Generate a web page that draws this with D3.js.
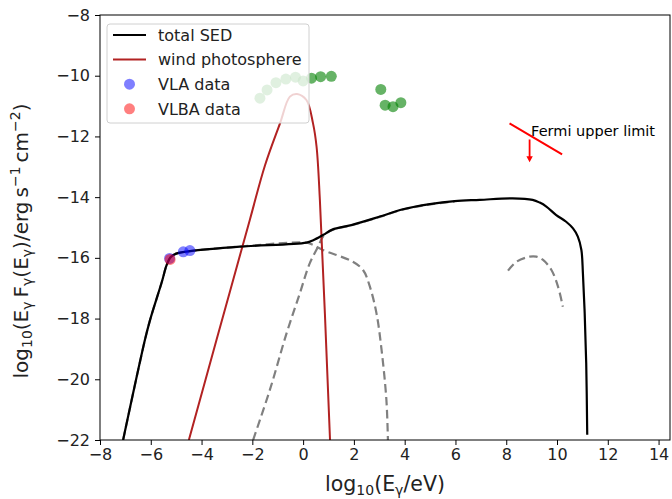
<!DOCTYPE html>
<html>
<head>
<meta charset="utf-8">
<script src="https://cdn.jsdelivr.net/npm/d3@7/dist/d3.min.js"></script>
<style>
  html, body { margin: 0; padding: 0; background: #fff; }
  svg { display: block; font-family: "DejaVu Sans", sans-serif; }
</style>
</head>
<body>
<svg id="chart" width="672" height="499"></svg>
<script>
// ---- data (log10 E / eV, log10 E F(E) / erg s^-1 cm^-2) ----
const totalX = [-7.09, -6.23, -6.03, -5.56, -5.38, -5.22, -5.00, -4.46, -2.49, 0.13, 0.40, 0.80, 1.15, 1.90, 3.02, 3.93, 4.99, 5.97, 6.96, 8.25, 9.04, 9.32, 9.58, 9.97, 10.36, 10.63, 10.82, 10.96, 11.02, 11.09, 11.15, 11.19];
const totalY = [-22, -18.70, -18.05, -16.78, -16.25, -15.98, -15.86, -15.78, -15.63, -15.50, -15.42, -15.24, -15.07, -14.92, -14.64, -14.40, -14.23, -14.13, -14.09, -14.04, -14.09, -14.18, -14.31, -14.59, -14.81, -15.03, -15.30, -15.74, -16.51, -17.83, -19.47, -21.83];

const windX = [-4.50, -3.41, -2.10, -1.50, -0.91, -0.52, -0.24, 0.13, 0.39, 0.53, 0.66, 1.06];
const windY = [-22, -18.70, -14.75, -12.95, -11.57, -10.69, -10.60, -10.80, -11.57, -12.34, -14.09, -22];

// low-energy component
const comp1X = [-7.09, -6.23, -6.03, -5.56, -5.38, -5.22, -5.00, -4.46, -2.49, 0.13, 0.40, 0.78, 1.96, 2.36, 2.63, 2.89, 3.09, 3.28, 3.34];
const comp1Y = [-22, -18.70, -18.05, -16.78, -16.25, -15.98, -15.86, -15.78, -15.63, -15.50, -15.58, -15.74, -16.13, -16.40, -16.95, -17.83, -19.03, -20.68, -22];

// rising component
const comp2X = [-1.97, -1.31, -0.65, -0.13, 0.26, 0.59, 0.80, 1.15, 1.90, 3.02, 3.93, 4.99, 5.97];
const comp2Y = [-22, -20.35, -18.48, -17.17, -16.18, -15.63, -15.28, -15.08, -14.93, -14.65, -14.41, -14.24, -14.14];

// high-energy component
const comp3X = [8.07, 8.40, 8.92, 9.19, 9.45, 9.78, 10.04, 10.23];
const comp3Y = [-16.42, -16.13, -15.96, -15.96, -16.07, -16.40, -16.95, -17.61];

const greenX = [-1.70, -1.42, -1.07, -0.68, -0.30, 0.00, 0.33, 0.69, 1.11, 3.06, 3.23, 3.54, 3.85];
const greenY = [-10.74, -10.47, -10.23, -10.11, -10.05, -10.17, -10.08, -10.03, -10.02, -10.45, -10.97, -11.02, -10.89];

const vlaX = [-5.26, -4.72, -4.46];
const vlaY = [-16.02, -15.80, -15.76];
const vlbaX = [-5.24];
const vlbaY = [-16.05];

// Fermi upper limit: segment ends and arrow
const fermiX = [8.13, 10.20];
const fermiY = [-11.57, -12.59];
const fermiArrowX = 8.92;
const fermiArrowY = [-12.10, -12.85];

const xTickValues = [-8, -6, -4, -2, 0, 2, 4, 6, 8, 10, 12, 14];
const yTickValues = [-22, -20, -18, -16, -14, -12, -10, -8];

// ---- layout ----
const svg = d3.select("#chart");
const m = { left: 100, top: 15, right: 670, bottom: 440 };
const x = d3.scaleLinear().domain([-8, 14.45]).range([m.left, m.right]);
const y = d3.scaleLinear().domain([-22, -8]).range([m.bottom, m.top]);

const zip = (a, b) => a.map((v, i) => [v, b[i]]);
const line = d3.line().x(d => x(d[0])).y(d => y(d[1])).curve(d3.curveCatmullRom.alpha(0.5));

svg.append("defs").append("clipPath").attr("id", "plotclip")
  .append("rect").attr("x", m.left).attr("y", m.top)
  .attr("width", m.right - m.left).attr("height", m.bottom - m.top);

const plot = svg.append("g").attr("clip-path", "url(#plotclip)");

// dashed model components
[[comp1X, comp1Y], [comp2X, comp2Y], [comp3X, comp3Y]].forEach(([cx, cy]) => {
  plot.append("path").datum(zip(cx, cy)).attr("d", line)
    .attr("fill", "none").attr("stroke", "#808080").attr("stroke-width", 2.2)
    .attr("stroke-dasharray", "8.5,4.5");
});

// wind photosphere
plot.append("path").datum(zip(windX, windY)).attr("d", line)
  .attr("fill", "none").attr("stroke", "#b22222").attr("stroke-width", 2);

// total SED
plot.append("path").datum(zip(totalX, totalY)).attr("d", line)
  .attr("fill", "none").attr("stroke", "#000").attr("stroke-width", 2.2);

// green data
plot.selectAll("circle.green").data(zip(greenX, greenY)).enter().append("circle")
  .attr("cx", d => x(d[0])).attr("cy", d => y(d[1])).attr("r", 5.5)
  .attr("fill", "#008000").attr("fill-opacity", 0.6);

// VLA and VLBA
plot.selectAll("circle.vla").data(zip(vlaX, vlaY)).enter().append("circle")
  .attr("cx", d => x(d[0])).attr("cy", d => y(d[1])).attr("r", 5.5)
  .attr("fill", "#0000ff").attr("fill-opacity", 0.5);
plot.selectAll("circle.vlba").data(zip(vlbaX, vlbaY)).enter().append("circle")
  .attr("cx", d => x(d[0])).attr("cy", d => y(d[1])).attr("r", 5.5)
  .attr("fill", "#ff0000").attr("fill-opacity", 0.5);

// Fermi upper limit
plot.append("line")
  .attr("x1", x(fermiX[0])).attr("y1", y(fermiY[0]))
  .attr("x2", x(fermiX[1])).attr("y2", y(fermiY[1]))
  .attr("stroke", "#ff0000").attr("stroke-width", 2);
const ax = x(fermiArrowX), ay0 = y(fermiArrowY[0]), ay1 = y(fermiArrowY[1]);
plot.append("line").attr("x1", ax).attr("y1", ay0).attr("x2", ax).attr("y2", ay1 - 5)
  .attr("stroke", "#ff0000").attr("stroke-width", 1.8);
plot.append("path")
  .attr("d", `M${ax - 3.2},${ay1 - 6} L${ax + 3.2},${ay1 - 6} L${ax},${ay1} Z`)
  .attr("fill", "#ff0000");
svg.append("text").attr("x", x(8.98)).attr("y", y(-11.98))
  .attr("font-size", 14.5).attr("fill", "#000").text("Fermi upper limit");

// ---- axes ----
const xAxis = d3.axisBottom(x).tickValues(xTickValues).tickSize(5).tickPadding(4)
  .tickFormat(d => (d < 0 ? "\u2212" + Math.abs(d) : String(d)));
const yAxis = d3.axisLeft(y).tickValues(yTickValues).tickSize(5).tickPadding(5)
  .tickFormat(d => (d < 0 ? "\u2212" + Math.abs(d) : String(d)));

const gx = svg.append("g").attr("transform", `translate(0,${m.bottom})`).call(xAxis);
const gy = svg.append("g").attr("transform", `translate(${m.left},0)`).call(yAxis);
[gx, gy].forEach(g => {
  g.select(".domain").remove();
  g.selectAll(".tick line").attr("stroke", "#000").attr("stroke-width", 1);
  g.selectAll(".tick text").attr("font-size", 16).attr("fill", "#222")
    .attr("font-family", "DejaVu Sans, sans-serif");
});

// frame
svg.append("rect").attr("x", m.left).attr("y", m.top)
  .attr("width", m.right - m.left).attr("height", m.bottom - m.top)
  .attr("fill", "none").attr("stroke", "#000").attr("stroke-width", 1);

// axis labels
const xl = svg.append("text").attr("x", (m.left + m.right) / 2).attr("y", 491)
  .attr("text-anchor", "middle").attr("font-size", 20.5).attr("fill", "#222");
xl.append("tspan").text("log");
xl.append("tspan").attr("font-size", 14).attr("dy", 3.5).text("10");
xl.append("tspan").attr("dy", -3.5).text("(E");
xl.append("tspan").attr("font-size", 14).attr("dy", 3.5).text("γ");
xl.append("tspan").attr("dy", -3.5).text("/eV)");

const yl = svg.append("text").attr("transform", "translate(28,241) rotate(-90)")
  .attr("text-anchor", "middle").attr("font-size", 20).attr("fill", "#222");
const ySeg = [
  ["log", 0], ["10", 1], ["(E", 0], ["γ", 1], ["\u2009F", 0], ["γ", 1], ["(E", 0], ["γ", 1],
  [")/erg\u2009s", 0], ["\u22121", 2], ["\u2009cm", 0], ["\u22122", 2], [")", 0]
];
let prev = 0;
ySeg.forEach(([t, k]) => {
  const off = k === 1 ? 4 : k === 2 ? -8 : 0;
  const ts = yl.append("tspan").attr("dy", off - prev).text(t);
  if (k) ts.attr("font-size", 14);
  prev = off;
});

// ---- legend ----
const lg = svg.append("g");
lg.append("rect").attr("x", 107).attr("y", 24).attr("width", 202).attr("height", 99)
  .attr("rx", 3).attr("fill", "#fff").attr("fill-opacity", 0.8)
  .attr("stroke", "#d0d0d0").attr("stroke-width", 1);
const legendItems = [
  { label: "total SED", type: "line", color: "#000", op: 1 },
  { label: "wind photosphere", type: "line", color: "#b22222", op: 1 },
  { label: "VLA data", type: "dot", color: "#0000ff", op: 0.5 },
  { label: "VLBA data", type: "dot", color: "#ff0000", op: 0.5 }
];
legendItems.forEach((it, i) => {
  const cy = 35 + i * 24.6;
  if (it.type === "line") {
    lg.append("line").attr("x1", 113).attr("x2", 146).attr("y1", cy).attr("y2", cy)
      .attr("stroke", it.color).attr("stroke-width", 2);
  } else {
    lg.append("circle").attr("cx", 129.5).attr("cy", cy).attr("r", 5.5)
      .attr("fill", it.color).attr("fill-opacity", it.op);
  }
  lg.append("text").attr("x", 158).attr("y", cy).attr("dy", "0.36em")
    .attr("font-size", 16).attr("fill", "#222").text(it.label);
});
</script>
</body>
</html>
